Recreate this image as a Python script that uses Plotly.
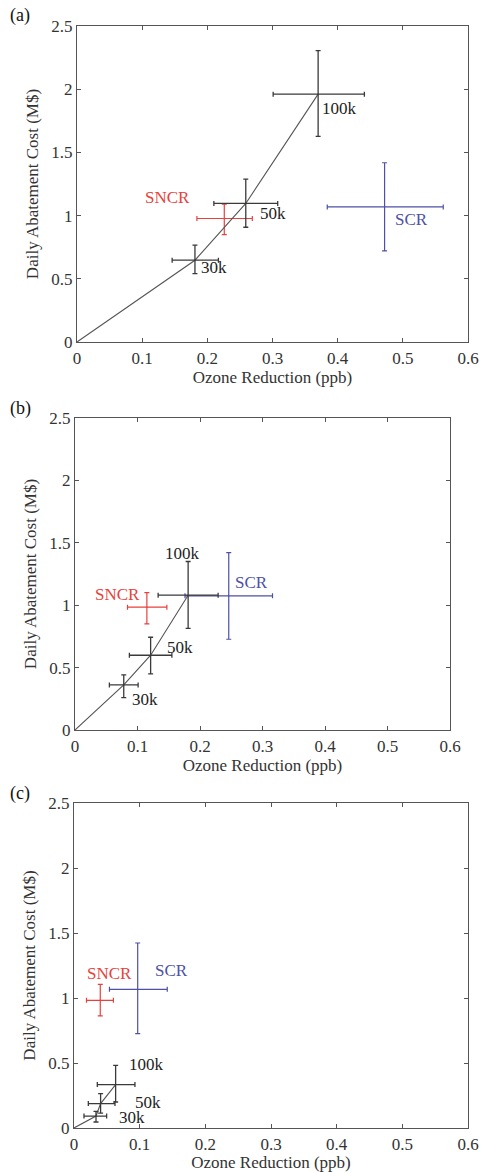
import plotly.graph_objects as go

W, H = 481, 1172

# ---------------- data ----------------
cap_labels = ["30k", "50k", "100k"]

# panel (a)
a_cap_x = [0.181, 0.259, 0.370]
a_cap_y = [0.647, 1.096, 1.961]
a_cap_xlo = [0.146, 0.210, 0.301]
a_cap_xhi = [0.217, 0.308, 0.441]
a_cap_ylo = [0.541, 0.908, 1.626]
a_cap_yhi = [0.766, 1.288, 2.305]
a_sncr = dict(x=0.226, y=0.977, xlo=0.184, xhi=0.269, ylo=0.85, yhi=1.09)
a_scr = dict(x=0.472, y=1.069, xlo=0.384, xhi=0.562, ylo=0.721, yhi=1.418)

# panel (b)
b_cap_x = [0.078, 0.121, 0.181]
b_cap_y = [0.361, 0.599, 1.080]
b_cap_xlo = [0.055, 0.087, 0.133]
b_cap_xhi = [0.101, 0.155, 0.229]
b_cap_ylo = [0.259, 0.449, 0.815]
b_cap_yhi = [0.441, 0.743, 1.350]
b_sncr = dict(x=0.115, y=0.984, xlo=0.084, xhi=0.147, ylo=0.85, yhi=1.10)
b_scr = dict(x=0.246, y=1.075, xlo=0.176, xhi=0.316, ylo=0.727, yhi=1.422)

# panel (c)
c_cap_x = [0.0335, 0.0405, 0.0634]
c_cap_y = [0.092, 0.188, 0.334]
c_cap_xlo = [0.0152, 0.0218, 0.0355]
c_cap_xhi = [0.0497, 0.0624, 0.0928]
c_cap_ylo = [0.046, 0.115, 0.200]
c_cap_yhi = [0.128, 0.264, 0.482]
c_sncr = dict(x=0.040, y=0.982, xlo=0.019, xhi=0.060, ylo=0.862, yhi=1.105)
c_scr = dict(x=0.097, y=1.067, xlo=0.054, xhi=0.142, ylo=0.726, yhi=1.423)

x_ticks = [0, 0.1, 0.2, 0.3, 0.4, 0.5, 0.6]
x_tick_text = ["0", "0.1", "0.2", "0.3", "0.4", "0.5", "0.6"]
y_ticks = [0, 0.5, 1, 1.5, 2, 2.5]
y_tick_text = ["0", "0.5", "1", "1.5", "2", "2.5"]

BLACK = "#3a3a3a"
RED = "#e8413c"
BLUE = "#4d50a6"
FONT = "Liberation Serif"
FS = 17

# panel pixel boxes in page coords: (left, right, top, bottom)
boxes = [(77, 468, 26, 342), (75, 450, 418, 730), (74, 468, 803, 1128)]

panels = [
    ("(a)", a_cap_x, a_cap_y, a_cap_xlo, a_cap_xhi, a_cap_ylo, a_cap_yhi, a_sncr, a_scr),
    ("(b)", b_cap_x, b_cap_y, b_cap_xlo, b_cap_xhi, b_cap_ylo, b_cap_yhi, b_sncr, b_scr),
    ("(c)", c_cap_x, c_cap_y, c_cap_xlo, c_cap_xhi, c_cap_ylo, c_cap_yhi, c_sncr, c_scr),
]

# label placement offsets (pixels, left edge / vertical centre) for 30k/50k/100k
cap_label_shift = [
    [(4, -7), (12, -10), (2, -14)],
    [(6, -15), (14, 8), (-25, 42)],
    [(21, -1), (32, 1), (11, 20)],
]
sncr_pos = [(0.1396, 1.147), (0.0672, 1.082), (0.0548, 1.192)]
scr_pos = [(0.514, 0.973), (0.283, 1.178), (0.149, 1.208)]

fig = go.Figure()
ann = []

for i, (lab, cx, cy, xlo, xhi, ylo, yhi, sn, sc) in enumerate(panels):
    n = "" if i == 0 else str(i + 1)
    xa, ya = "x" + n, "y" + n
    for d, col in ((sc, BLUE), (sn, RED)):
        fig.add_trace(go.Scatter(
            x=[d["x"]], y=[d["y"]], xaxis=xa, yaxis=ya, mode="markers",
            marker=dict(size=1, color=col),
            error_x=dict(type="data", symmetric=False, array=[d["xhi"] - d["x"]],
                         arrayminus=[d["x"] - d["xlo"]], color=col, thickness=1.2, width=2.5),
            error_y=dict(type="data", symmetric=False, array=[d["yhi"] - d["y"]],
                         arrayminus=[d["y"] - d["ylo"]], color=col, thickness=1.2, width=2.5),
            showlegend=False, hoverinfo="skip"))
    fig.add_trace(go.Scatter(
        x=[0] + cx, y=[0] + cy, xaxis=xa, yaxis=ya, mode="lines",
        line=dict(color="#555555", width=1.1), showlegend=False, hoverinfo="skip"))
    fig.add_trace(go.Scatter(
        x=cx, y=cy, xaxis=xa, yaxis=ya, mode="markers",
        marker=dict(size=1, color=BLACK),
        error_x=dict(type="data", symmetric=False,
                     array=[h - v for h, v in zip(xhi, cx)],
                     arrayminus=[v - l for v, l in zip(cx, xlo)],
                     color=BLACK, thickness=1.3, width=2.5),
        error_y=dict(type="data", symmetric=False,
                     array=[h - v for h, v in zip(yhi, cy)],
                     arrayminus=[v - l for v, l in zip(cy, ylo)],
                     color=BLACK, thickness=1.3, width=2.5),
        showlegend=False, hoverinfo="skip"))

    L, R, T, B = boxes[i]
    dom_x = [L / W, R / W]
    dom_y = [1 - B / H, 1 - T / H]
    axis_common = dict(showline=True, linecolor="#555555", linewidth=1.2, mirror="ticks",
                       ticks="inside", ticklen=4, tickcolor="#555555", showgrid=False,
                       zeroline=False, automargin=False,
                       tickfont=dict(family=FONT, size=FS, color="#333333"))
    fig.layout["xaxis" + n] = dict(domain=dom_x, anchor=ya, range=[0, 0.6],
                                   tickvals=x_ticks, ticktext=x_tick_text,
                                   title=dict(text="Ozone Reduction (ppb)", standoff=4,
                                              font=dict(family=FONT, size=FS, color="#333333")),
                                   **axis_common)
    fig.layout["yaxis" + n] = dict(domain=dom_y, anchor=xa, range=[0, 2.5],
                                   tickvals=y_ticks, ticktext=y_tick_text,
                                   title=dict(text="Daily Abatement Cost (M$)", standoff=8,
                                              font=dict(family=FONT, size=FS, color="#333333")),
                                   **axis_common)
    for k, t in enumerate(cap_labels):
        dx, dy = cap_label_shift[i][k]
        ann.append(dict(x=cx[k], y=cy[k], xref=xa, yref=ya, text=t, showarrow=False,
                        xanchor="left", yanchor="middle", xshift=dx, yshift=dy,
                        font=dict(family=FONT, size=FS, color="#222222")))
    ann.append(dict(x=sncr_pos[i][0], y=sncr_pos[i][1], xref=xa, yref=ya, text="SNCR",
                    showarrow=False, font=dict(family=FONT, size=FS, color=RED)))
    ann.append(dict(x=scr_pos[i][0], y=scr_pos[i][1], xref=xa, yref=ya, text="SCR",
                    showarrow=False, font=dict(family=FONT, size=FS, color=BLUE)))
    ann.append(dict(x=8 / W, y=1 - (T - 10) / H, xref="paper", yref="paper", text=lab,
                    showarrow=False, xanchor="left", yanchor="middle",
                    font=dict(family=FONT, size=18, color="#111111")))

fig.update_layout(width=W, height=H, margin=dict(l=0, r=0, t=0, b=0, autoexpand=False),
                  paper_bgcolor="white", plot_bgcolor="white", annotations=ann)
fig.write_html("out.html", config={"displayModeBar": False},
               post_script="document.body.style.margin='0';document.body.style.overflow='hidden';")
